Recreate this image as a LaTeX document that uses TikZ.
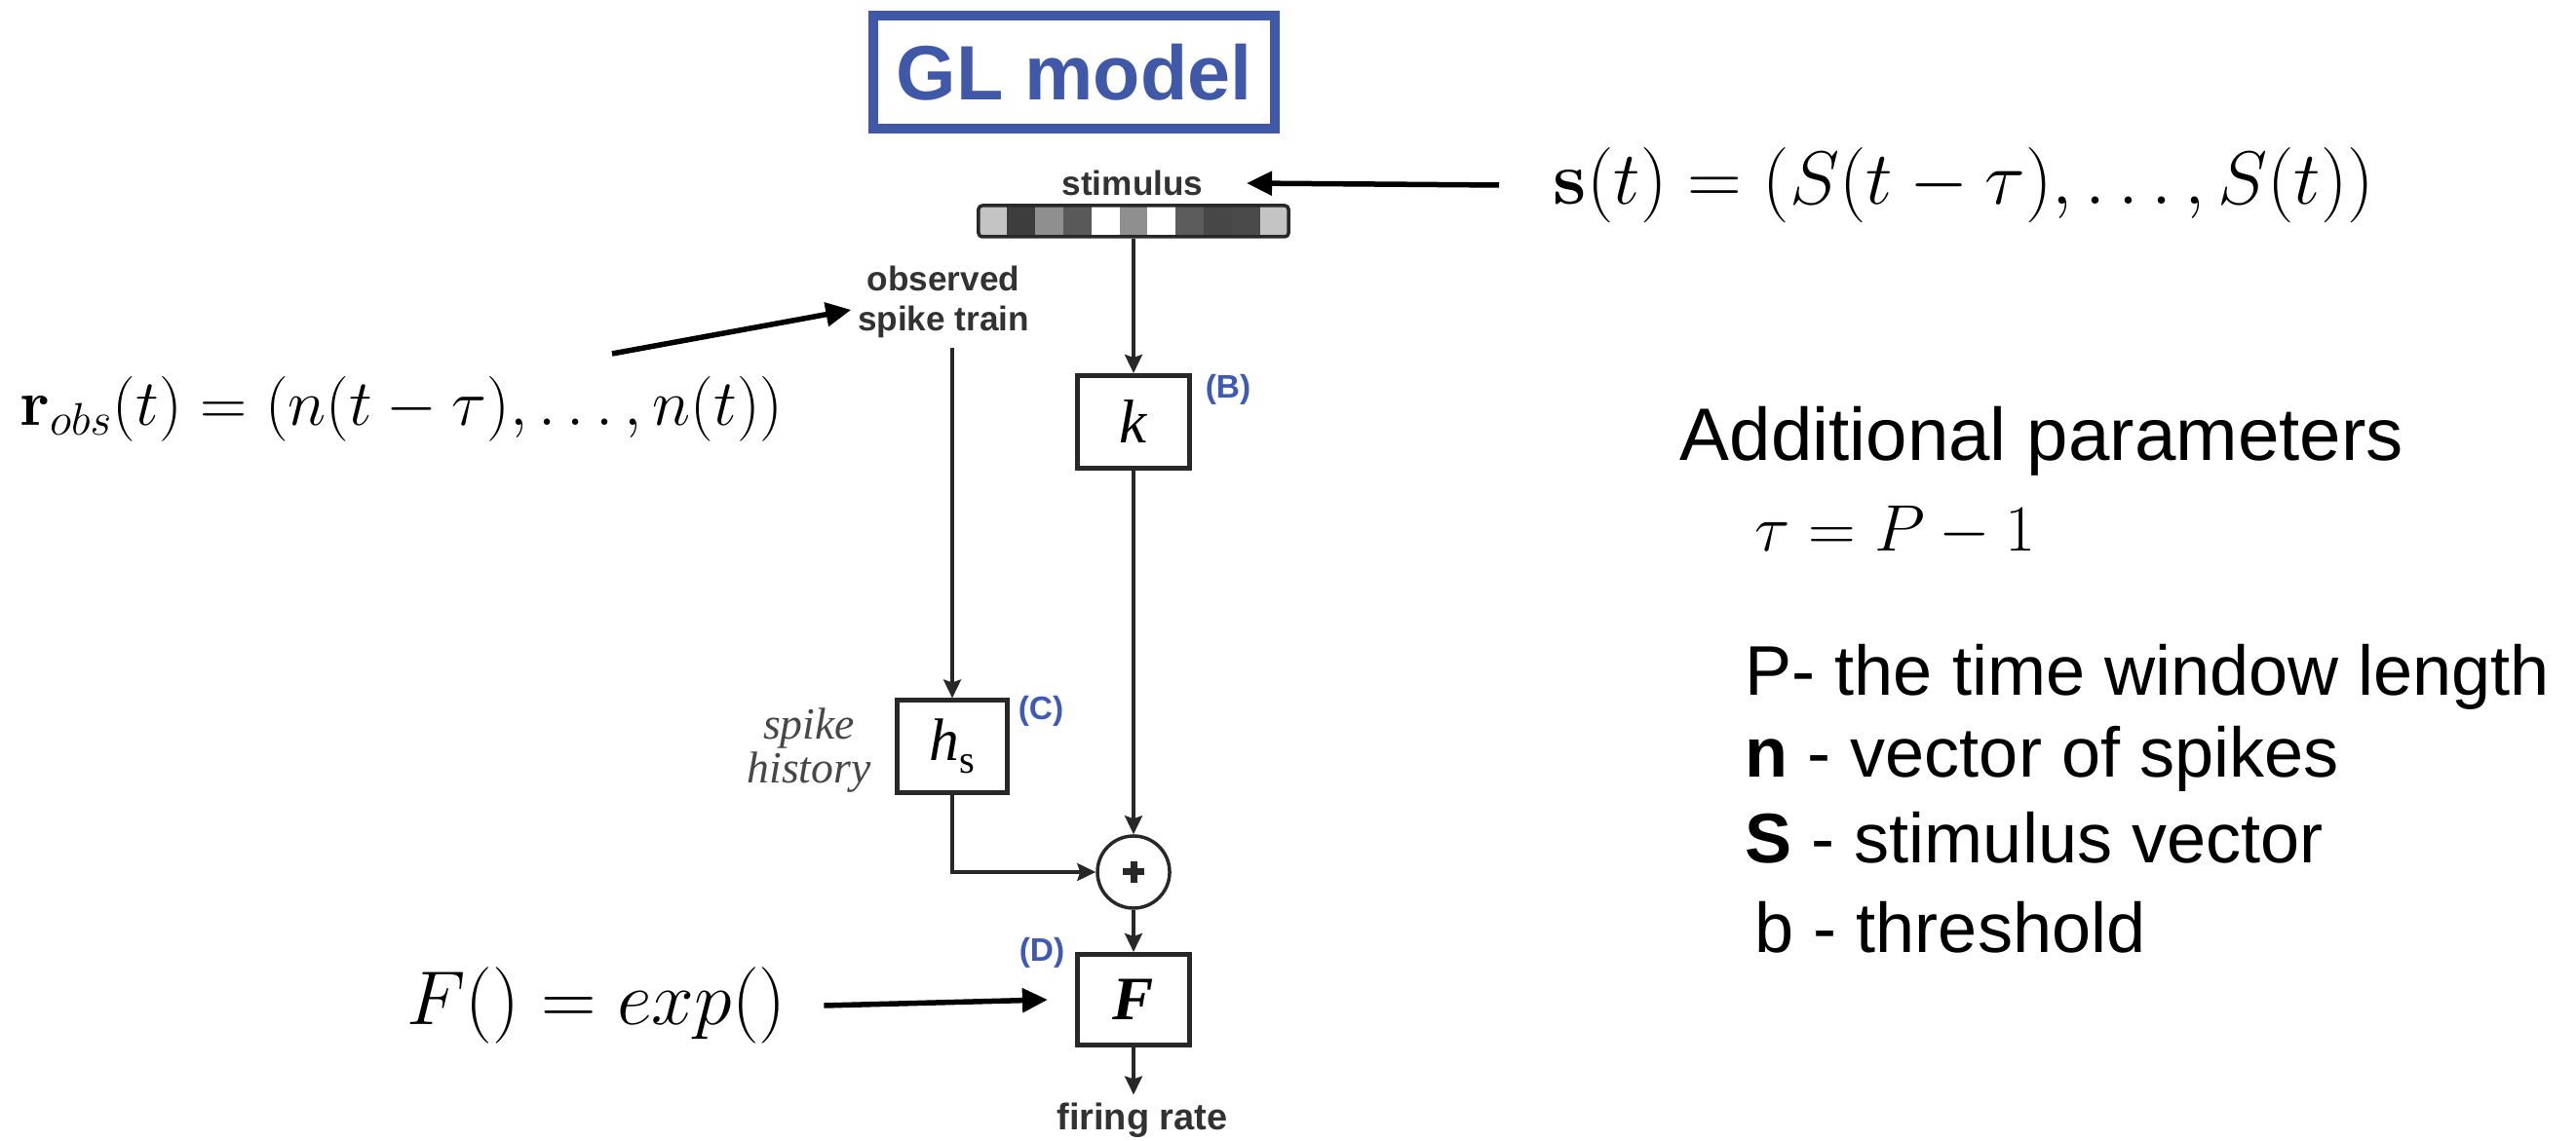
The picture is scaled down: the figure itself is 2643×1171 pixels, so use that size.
\RequirePackage{fix-cm}
\documentclass[tikz,border=0pt]{standalone}
\usepackage[no-math]{fontspec}
\setmainfont{Liberation Sans}
\newfontfamily\serifit{Liberation Serif}
\usetikzlibrary{arrows.meta}
\definecolor{glblue}{RGB}{64,88,168}
\definecolor{lbl}{RGB}{62,90,178}
\definecolor{ink}{RGB}{40,40,40}
\definecolor{txtgray}{RGB}{50,50,50}
\begin{document}
\begin{tikzpicture}[x=0.01cm,y=-0.01cm,
  blk/.style={draw=ink, line width=0.05cm, fill=white, inner sep=0pt},
  arr/.style={draw=ink, line width=0.035cm, -{Stealth[length=0.19cm,width=0.18cm,inset=0.03cm]}},
  ann/.style={draw=black, line width=0.055cm, -{Triangle[length=0.26cm,width=0.24cm]}},
  lab/.style={font=\fontsize{10}{11.5}\selectfont\bfseries, text=txtgray, inner sep=0pt},
  tag/.style={font=\fontsize{9.5}{11}\selectfont\bfseries, text=lbl, inner sep=0pt},
  rt/.style={font=\fontsize{20.5}{24}\selectfont, inner sep=0pt, anchor=base west}]

\useasboundingbox[fill=white] (0,0) rectangle (2643,1171);

% title
\node[draw=glblue, line width=0.1cm, minimum width=4.11cm, minimum height=1.15cm,
      text=glblue, font=\fontsize{22.5}{24}\selectfont\bfseries] (gl) at (1102,74) {GL model};

% stimulus
\node[lab] (stim) at (1162,188) {stimulus};
\foreach \g [count=\i from 0] in {23,76,44,65,0,44,0,64,72,71,23}
  \fill[black!\g] (1004+\i*28.9,211) rectangle (1004+\i*28.9+28.9,243);
\node[draw=ink, line width=0.035cm, rounded corners=0.04cm, minimum width=3.18cm,
      minimum height=0.32cm, inner sep=0pt] (bar) at (1163,227) {};

% k filter
\node[blk, minimum width=1.15cm, minimum height=0.95cm] (k) at (1163,433)
  {\serifit\itshape\fontsize{18}{19}\selectfont k};
\node[tag] (tB) at (1260,400) {(B)};

% observed spike train
\node[lab, align=center] (obs) at (968,310) {observed\\spike train};

% spike history
\node[blk, minimum width=1.13cm, minimum height=0.94cm] (hs) at (977,766)
  {\serifit\fontsize{17.5}{18}\selectfont\itshape h\upshape\raisebox{-0.2em}{\fontsize{11.5}{12}\selectfont s}};
\node[tag] (tC) at (1068,730) {(C)};
\node[font=\serifit\itshape\fontsize{13}{12.6}\selectfont, text=black!72, align=center, inner sep=0pt]
  (hist) at (830,770) {spike\\history};

% sum
\node[circle, draw=ink, line width=0.035cm, minimum size=0.74cm, inner sep=0pt, fill=white] (plus) at (1163,895) {};
\draw[ink, line width=0.07cm] ([xshift=-0.11cm]plus.center) -- ([xshift=0.11cm]plus.center);
\draw[ink, line width=0.07cm] ([yshift=-0.11cm]plus.center) -- ([yshift=0.11cm]plus.center);

% F
\node[blk, minimum width=1.15cm, minimum height=0.93cm] (F) at (1163,1026)
  {\serifit\bfseries\itshape\fontsize{18}{19}\selectfont F};
\node[tag] (tD) at (1069,978) {(D)};
\node[lab, font=\fontsize{10.8}{12}\selectfont\bfseries] (fr) at (1172,1150) {firing rate};

% connectors
\coordinate (hstop) at (obs.south -| hs.north);
\draw[arr] (bar.south) -- (k.north);
\draw[arr] ([yshift=-0.1cm]hstop) -- (hs.north);
\draw[arr] (k.south) -- (plus.north);
\draw[arr] (hs.south) |- (plus.west);
\draw[arr] (plus.south) -- (F.north);
\draw[arr] (F.south) -- ([yshift=0.08cm]F.south |- fr.north);

% formulas
\node[font=\fontsize{22}{26}\selectfont, inner sep=0pt] (sform) at (2015,190)
  {$\mathbf{s}(t) = (S(t-\tau), \ldots, S(t))$};
\node[font=\fontsize{19}{22}\selectfont, inner sep=0pt] (robs) at (412,420)
  {$\mathbf{r}_{obs}(t) = (n(t-\tau), \ldots, n(t))$};
\node[font=\fontsize{22.3}{26}\selectfont, inner sep=0pt] (fexp) at (612,1032) {$F() = exp()$};

% annotation arrows
\coordinate (rtail) at (628,363);
\draw[ann] ([xshift=-0.55cm]sform.west) -- ([xshift=0.44cm]stim.east);
\draw[ann] (rtail) -- ([xshift=-0.06cm,yshift=-0.08cm]obs.west);
\draw[ann] ([xshift=0.38cm]fexp.east) -- ([xshift=-0.28cm]F.west);

% additional parameters
\node[rt, font=\fontsize{21.7}{25}\selectfont] (ap) at (1723,473) {Additional parameters};
\node[rt, font=\fontsize{19.2}{23}\selectfont] (tau) at (1800,566) {$\tau = P - 1$};
\node[rt] (p1) at (1790,714) {P- the time window length};
\node[rt] (p2) at (1790,798) {\textbf{n} - vector of spikes};
\node[rt] (p3) at (1790,886) {\textbf{S} - stimulus vector};
\node[rt] (p4) at (1800,978) {b - threshold};
\end{tikzpicture}
\end{document}
